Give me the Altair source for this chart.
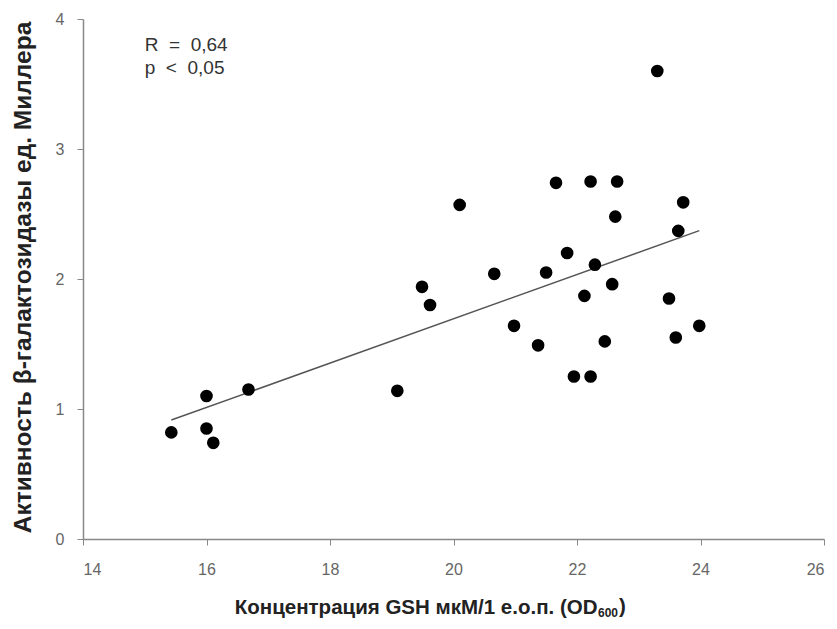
import altair as alt
import pandas as pd

gsh = [15.43, 16.00, 16.00, 16.11, 16.68, 19.09, 19.49, 19.62, 20.10, 20.66,
       20.98, 21.37, 21.50, 21.66, 21.84, 21.95, 22.12, 22.22, 22.22, 22.29,
       22.45, 22.57, 22.62, 22.65, 23.30, 23.49, 23.60, 23.64, 23.72, 23.98]
activity = [0.82, 1.10, 0.85, 0.74, 1.15, 1.14, 1.94, 1.80, 2.57, 2.04,
            1.64, 1.49, 2.05, 2.74, 2.20, 1.25, 1.87, 2.75, 1.25, 2.11,
            1.52, 1.96, 2.48, 2.75, 3.60, 1.85, 1.55, 2.37, 2.59, 1.64]

x_ticks = [14, 16, 18, 20, 22, 24, 26]
y_ticks = [0, 1, 2, 3, 4]

NB = "\u00a0"
ann_x = [15.0]
ann_y = [3.80]
ann_text = [["R" + NB * 2 + "=" + NB * 2 + "0,64", "p" + NB * 2 + "<" + NB * 2 + "0,05"]]

x_title_main = "Концентрация GSH мкМ/1 е.о.п. (OD"
x_title_sub = ["600"]
x_title_end = [")"]
y_title = "Активность β-галактозидазы ед. Миллера"

df = pd.DataFrame({"x": gsh, "y": activity})
ann = pd.DataFrame({"x": ann_x, "y": ann_y, "t": ann_text})

FONT = "Liberation Sans"

xs = alt.Scale(domain=[14, 26], nice=False, zero=False)
ys = alt.Scale(domain=[0, 4], nice=False)

base = alt.Chart(df)

points = base.mark_circle(size=160, color="black", opacity=1).encode(
    x=alt.X("x:Q", scale=xs,
            axis=alt.Axis(values=x_ticks, format="d", title=x_title_main,
                          titleX=514, titleY=74, titleAlign="right",
                          titleBaseline="alphabetic", titleFontSize=20.5,
                          labelPadding=16)),
    y=alt.Y("y:Q", scale=ys,
            axis=alt.Axis(values=y_ticks, format="d", title=y_title,
                          titleX=-60, titleY=258, titleAlign="center",
                          titleBaseline="middle", titleAngle=-90,
                          titleFontSize=24.5, labelPadding=13)),
)

line = base.transform_regression("x", "y").mark_line(
    color="#555555", strokeWidth=1.5
).encode(x=alt.X("x:Q", scale=xs), y=alt.Y("y:Q", scale=ys))

text = alt.Chart(ann).mark_text(
    align="left", baseline="middle", fontSize=19, font=FONT, color="#333333",
    lineHeight=23
).encode(x=alt.X("x:Q", scale=xs), y=alt.Y("y:Q", scale=ys), text="t")

sub = alt.Chart(pd.DataFrame({"t": x_title_sub})).mark_text(
    align="left", baseline="alphabetic", fontSize=12, font=FONT,
    fontWeight="bold", color="#222222"
).encode(x=alt.value(515), y=alt.value(598), text="t:N")

end = alt.Chart(pd.DataFrame({"t": x_title_end})).mark_text(
    align="left", baseline="alphabetic", fontSize=20.5, font=FONT,
    fontWeight="bold", color="#222222"
).encode(x=alt.value(536), y=alt.value(594), text="t:N")

chart = alt.layer(line, points, text, sub, end).properties(
    width=741, height=520,
    padding={"left": 75, "top": 11, "right": 5, "bottom": 82},
    autosize=alt.AutoSizeParams(type="none"),
).configure_view(stroke=None).configure_axis(
    grid=False, domainColor="#888888", tickColor="#888888", domainWidth=1.5,
    tickSize=6, labelFont=FONT, labelFontSize=16, labelColor="#666666",
    titleFont=FONT, titleFontWeight="bold", titleColor="#222222",
)

chart.save("out.html", embed_options={"renderer": "svg", "actions": False})
